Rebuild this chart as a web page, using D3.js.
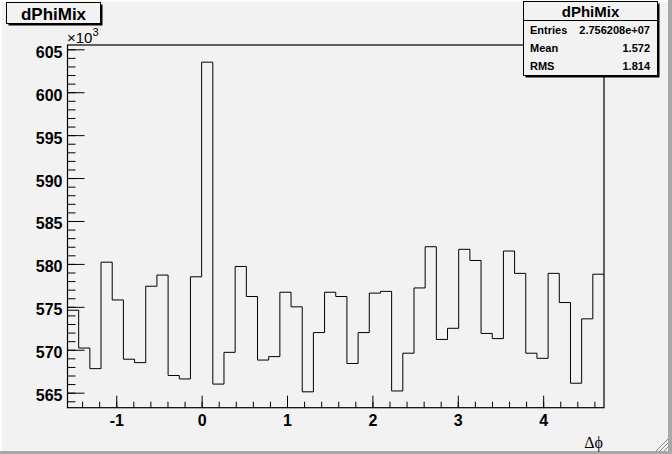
<!DOCTYPE html>
<html>
<head>
<meta charset="utf-8">
<script src="https://cdn.jsdelivr.net/npm/d3@7"></script>
<style>
  body { margin: 0; background: #f2f2f2; }
  svg { display: block; }
</style>
</head>
<body>
<div id="chart-area"></div>
<script>
// dPhiMix histogram, 48 bins from -pi/2 to 3pi/2, counts in units of 10^3
const binCount = 48
const xRange = [-Math.PI / 2, 3 * Math.PI / 2]
const counts = [
	574.6, 570.2, 567.8, 580.2, 575.8, 568.9, 568.5, 577.4, 578.7, 567.0, 566.6, 578.5,
	603.5, 566.0, 569.7, 579.7, 576.2, 568.8, 569.2, 576.7, 575.0, 565.1, 572.0, 576.7,
	576.2, 568.4, 572.0, 576.6, 576.8, 565.2, 569.6, 577.2, 582.0, 571.2, 572.5, 581.7,
	580.4, 571.9, 571.3, 581.5, 578.9, 569.6, 569.0, 578.9, 575.5, 566.1, 573.6, 578.8
]
const xTicks = [-1, 0, 1, 2, 3, 4]
const yTicks = [565, 570, 575, 580, 585, 590, 595, 600, 605]
const statLabels = ["Entries", "Mean", "RMS"]
const statValues = ["2.756208e+07", "1.572", "1.814"]
const histName = "dPhiMix"

const W = 672, H = 454
const FRAME = {LEFT: 67.5, RIGHT: 604, TOP: 45, BOTTOM: 407.7}
const SANS = "Liberation Sans, Arial, sans-serif"

const svg = d3.select("#chart-area").append("svg")
	.attr("width", W)
	.attr("height", H)
	.attr("font-family", SANS)

// canvas background and window edges
svg.append("rect").attr("width", W).attr("height", H).attr("fill", "#f2f2f2")
svg.append("rect").attr("x", W - 4).attr("y", 0).attr("width", 4).attr("height", H).attr("fill", "#a8a8a8")
svg.append("rect").attr("x", 0).attr("y", H - 3).attr("width", W).attr("height", 3).attr("fill", "#a8a8a8")
svg.append("rect").attr("x", 0).attr("y", 0).attr("width", 2).attr("height", H - 3).attr("fill", "#fcfcfc")
svg.append("rect").attr("x", 0).attr("y", 0).attr("width", W - 4).attr("height", 2).attr("fill", "#fcfcfc")

const x = d3.scaleLinear().domain(xRange).range([FRAME.LEFT, FRAME.RIGHT])
const y = d3.scaleLinear().domain([563.25, 605.5]).range([FRAME.BOTTOM, FRAME.TOP])

const binWidth = (xRange[1] - xRange[0]) / binCount
const bins = counts.map((c, i) => ({x0: xRange[0] + i * binWidth, x1: xRange[0] + (i + 1) * binWidth, c: c}))

// frame
svg.append("rect")
	.attr("x", FRAME.LEFT).attr("y", FRAME.TOP)
	.attr("width", FRAME.RIGHT - FRAME.LEFT)
	.attr("height", FRAME.BOTTOM - FRAME.TOP)
	.attr("fill", "#f2f2f2")
	.attr("stroke", "black")
	.attr("stroke-width", 1.2)

// histogram as a step outline
const pts = []
bins.forEach(b => {
	pts.push([x(b.x0), y(b.c)])
	pts.push([x(b.x1), y(b.c)])
})
svg.append("path")
	.attr("d", d3.line()(pts))
	.attr("fill", "none")
	.attr("stroke", "black")
	.attr("stroke-width", 1)

// y axis, ticks pointing inward
const yMinor = d3.range(564, 606, 1)
svg.append("g")
	.attr("transform", `translate(${FRAME.LEFT}, 0)`)
	.call(d3.axisLeft(y).tickValues(yMinor).tickSize(-8).tickSizeOuter(0).tickFormat(""))
	.call(g => g.select(".domain").remove())
const yAxis = svg.append("g")
	.attr("transform", `translate(${FRAME.LEFT}, 0)`)
	.call(d3.axisLeft(y).tickValues(yTicks).tickSize(-17).tickSizeOuter(0).tickPadding(5)
		.tickFormat(d => String(d)))
yAxis.select(".domain").remove()
yAxis.attr("font-family", SANS).attr("font-size", 16)
yAxis.selectAll("text")
	.attr("font-weight", "bold")
	.attr("dy", "0.5em")

// x axis, ticks pointing inward
const xMinor = d3.range(-1.4, 4.75, 0.2)
svg.append("g")
	.attr("transform", `translate(0, ${FRAME.BOTTOM})`)
	.call(d3.axisBottom(x).tickValues(xMinor).tickSize(-6).tickSizeOuter(0).tickFormat(""))
	.call(g => g.select(".domain").remove())
const xAxis = svg.append("g")
	.attr("transform", `translate(0, ${FRAME.BOTTOM})`)
	.call(d3.axisBottom(x).tickValues(xTicks).tickSize(-12).tickSizeOuter(0).tickPadding(7)
		.tickFormat(d => String(d)))
xAxis.select(".domain").remove()
xAxis.attr("font-family", SANS).attr("font-size", 16)
xAxis.selectAll("text")
	.attr("font-weight", "bold")
	.attr("dy", "0.72em")

svg.selectAll(".tick line").attr("stroke", "black").attr("stroke-width", 1)

// exponent label
const expo = svg.append("text")
	.attr("x", 67)
	.attr("y", 43)
	.attr("font-size", "15px")
	.text("\u00d710")
expo.append("tspan").attr("dy", -7).attr("font-size", "11px").text("3")

// axis title
svg.append("text")
	.attr("x", 603)
	.attr("y", 448)
	.attr("text-anchor", "end")
	.attr("font-family", "Liberation Serif, DejaVu Serif, serif")
	.attr("font-size", "16px")
	.text("\u0394\u03d5")

// boxes with a drop shadow like ROOT's TPave
function pave(x0, y0, w, h) {
	svg.append("rect").attr("x", x0 + 2).attr("y", y0 + 2).attr("width", w).attr("height", h).attr("fill", "black")
	svg.append("rect").attr("x", x0).attr("y", y0).attr("width", w).attr("height", h)
		.attr("fill", "#f2f2f2").attr("stroke", "black").attr("stroke-width", 1)
}

// title box
pave(6.5, 2.5, 94, 21)
svg.append("text")
	.attr("x", 53.5)
	.attr("y", 20)
	.attr("text-anchor", "middle")
	.attr("font-size", "17px")
	.attr("font-weight", "bold")
	.text(histName)

// stats box
pave(523.5, 1.5, 134, 74)
svg.append("line")
	.attr("x1", 523.5).attr("x2", 657.5)
	.attr("y1", 20.5).attr("y2", 20.5)
	.attr("stroke", "black")
svg.append("text")
	.attr("x", 590.5)
	.attr("y", 17)
	.attr("text-anchor", "middle")
	.attr("font-size", "15px")
	.attr("font-weight", "bold")
	.text(histName)

const rowY = d3.scalePoint().domain(statLabels).range([33.5, 69.5])
svg.selectAll(".stat-label")
	.data(statLabels)
	.enter().append("text")
	.attr("class", "stat-label")
	.attr("x", 530)
	.attr("y", d => rowY(d))
	.attr("font-size", "11px")
	.attr("font-weight", "bold")
	.text(d => d)
svg.selectAll(".stat-value")
	.data(statValues)
	.enter().append("text")
	.attr("class", "stat-value")
	.attr("x", 650)
	.attr("y", (d, i) => rowY(statLabels[i]))
	.attr("text-anchor", "end")
	.attr("font-size", "11px")
	.attr("font-weight", "bold")
	.text(d => d)

// resize grip
const grip = svg.append("g").attr("stroke", "#888").attr("stroke-width", 1)
;[4, 8, 12].forEach(o => {
	grip.append("line").attr("x1", W - 4 - o).attr("y1", H - 3).attr("x2", W - 4).attr("y2", H - 3 - o)
})
</script>
</body>
</html>
